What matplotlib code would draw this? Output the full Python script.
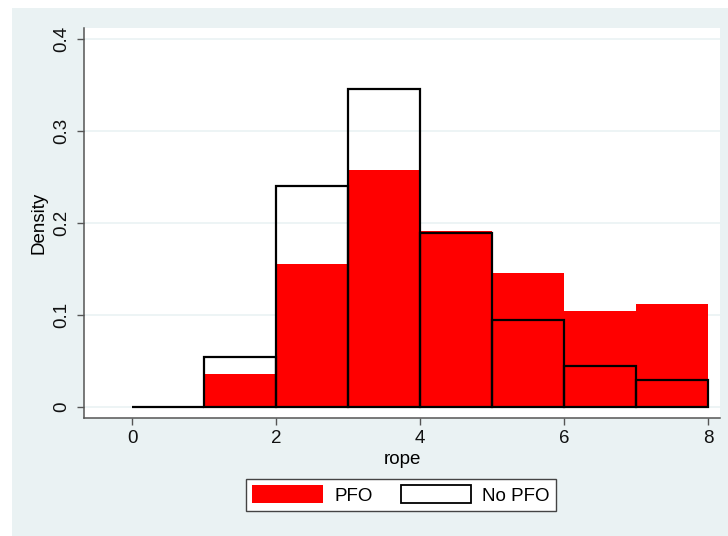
import matplotlib.pyplot as plt
from matplotlib.patches import Patch, Rectangle

plt.rcParams['font.family'] = ['Liberation Sans', 'DejaVu Sans']

# histogram bins (width 1) and densities
bin_left = [0, 1, 2, 3, 4, 5, 6, 7]
pfo = [0.0, 0.036, 0.155, 0.258, 0.191, 0.146, 0.104, 0.112]
no_pfo = [0.0, 0.054, 0.240, 0.346, 0.189, 0.095, 0.045, 0.029]
xticks = [0, 2, 4, 6, 8]
yticks = [0, 0.1, 0.2, 0.3, 0.4]

W, H = 728, 536
bg = '#eaf2f3'
fs = 13.5
fig = plt.figure(figsize=(W / 100, H / 100), dpi=100, facecolor='white')
fig.patches.append(Rectangle((12 / W, 0), 1 - 12 / W, 1 - 8 / H,
                             transform=fig.transFigure, facecolor=bg,
                             edgecolor='none', zorder=-10))

ax = fig.add_axes([84 / W, (H - 418) / H, (720 - 84) / W, (418 - 28) / H])
ax.set_facecolor('white')

ax.bar(bin_left, pfo, width=1, align='edge', color='#ff0000',
       edgecolor='none', zorder=2)
ax.bar(bin_left, no_pfo, width=1, align='edge', fill=False,
       edgecolor='black', linewidth=1.6, zorder=3)

ax.set_xlim(-0.668, 8.165)
ax.set_ylim(-0.012, 0.412)
ax.set_xticks(xticks)
ax.set_xticklabels([str(t) for t in xticks])
ax.set_yticks(yticks)
ax.set_yticklabels(['0', '0.1', '0.2', '0.3', '0.4'], rotation=90, va='center')
ax.grid(axis='y', color=bg, linewidth=1.2, zorder=1)
ax.set_axisbelow(True)
ax.tick_params(direction='out', length=5, width=1, color='#555555',
               labelsize=fs, labelcolor='#111111')
ax.tick_params(axis='y', pad=5)
for s in ['top', 'right']:
    ax.spines[s].set_visible(False)
for s in ['left', 'bottom']:
    ax.spines[s].set_color('#555555')
    ax.spines[s].set_linewidth(1.1)

ax.set_xlabel('rope', fontsize=fs, labelpad=3)
ax.set_ylabel('Density', fontsize=fs, labelpad=4)

handles = [Patch(facecolor='#ff0000', edgecolor='none'),
           Patch(facecolor='white', edgecolor='black', linewidth=1.3)]
leg = fig.legend(handles, ['PFO', 'No PFO'], loc='center',
                 bbox_to_anchor=(401 / W, 1 - 495 / H), ncol=2,
                 fontsize=fs, frameon=True, fancybox=False, framealpha=1,
                 handlelength=3.75, handleheight=1.1, columnspacing=1.5,
                 handletextpad=0.6, borderpad=0.35, borderaxespad=0)
leg.get_frame().set_edgecolor('#444444')
leg.get_frame().set_linewidth(1.0)

fig.savefig('out.png', dpi=100, facecolor=fig.get_facecolor())
